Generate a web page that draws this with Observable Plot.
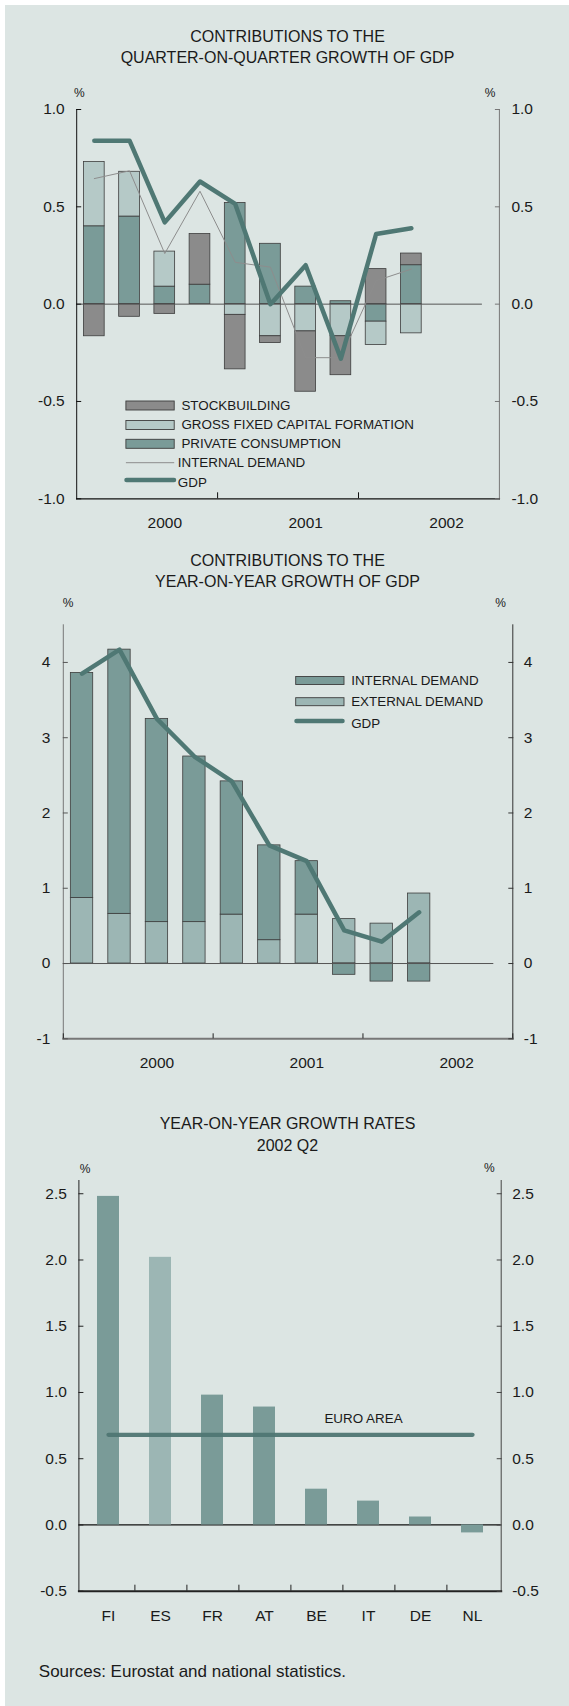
<!DOCTYPE html>
<html><head><meta charset="utf-8">
<script src="https://cdn.jsdelivr.net/npm/d3@7"></script>
<script src="https://cdn.jsdelivr.net/npm/@observablehq/plot@0.6"></script>
<style>
html,body{margin:0;padding:0;background:#fff;}
#page{position:relative;width:569px;height:1706px;overflow:hidden;font-family:"Liberation Sans",Arial,sans-serif;color:#1a1a1a;}
#panel{position:absolute;left:5px;top:5px;width:564px;height:1701px;background:#dce5e3;}
.chart{position:absolute;left:0;}
#overlay{position:absolute;left:0;top:0;}
</style></head><body><div id="page"><div id="panel"></div></div>
<script>
// ---------------- DATA ----------------
const quarters = ["2000 Q1","2000 Q2","2000 Q3","2000 Q4","2001 Q1","2001 Q2","2001 Q3","2001 Q4","2002 Q1","2002 Q2"];
const years = ["2000","2001","2002"];

// Chart 1: contributions to quarter-on-quarter growth of GDP (percentage points)
const qqSeries = ["PRIVATE CONSUMPTION","GROSS FIXED CAPITAL FORMATION","STOCKBUILDING"];
const qqPrivateConsumption = [0.40, 0.45, 0.09, 0.10, 0.52, 0.31, 0.09, 0.015, -0.09, 0.20];
const qqGFCF               = [0.33, 0.23, 0.18, 0.00, -0.055, -0.165, -0.14, -0.165, -0.12, -0.15];
const qqStockbuilding      = [-0.165, -0.065, -0.05, 0.26, -0.28, -0.035, -0.31, -0.20, 0.18, 0.06];
const qqInternalDemand     = [0.645, 0.685, 0.26, 0.58, 0.215, 0.19, -0.275, -0.275, 0.12, 0.18];
const qqGDP                = [0.84, 0.84, 0.42, 0.63, 0.515, 0.0, 0.20, -0.28, 0.36, 0.39];
const qqTicks = [-1, -0.5, 0, 0.5, 1];

// Chart 2: contributions to year-on-year growth of GDP
const yySeries = ["EXTERNAL DEMAND","INTERNAL DEMAND"];
const yyExternal = [0.87, 0.66, 0.55, 0.55, 0.65, 0.31, 0.65, 0.59, 0.53, 0.93];
const yyInternal = [2.99, 3.51, 2.70, 2.20, 1.77, 1.26, 0.71, -0.15, -0.24, -0.24];
const yyGDP      = [3.85, 4.17, 3.25, 2.75, 2.42, 1.57, 1.36, 0.44, 0.29, 0.68];
const yyTicks = [-1, 0, 1, 2, 3, 4];

// Chart 3: year-on-year growth rates, 2002 Q2
const countries = ["FI","ES","FR","AT","BE","IT","DE","NL"];
const growth    = [2.48, 2.02, 0.98, 0.89, 0.27, 0.18, 0.06, -0.06];
const euroArea  = 0.68;
const grTicks = [-0.5, 0, 0.5, 1, 1.5, 2, 2.5];

// ---------------- STYLE ----------------
const cPC = "#7a9b98", cGF = "#b5c9c7", cSB = "#8b8b8b", cGDP = "#4f7874", cID = "#8d8d8d";
const cInt = "#7a9b98", cExt = "#9cb6b4";
const font = "'Liberation Sans', Arial, sans-serif";
const baseStyle = {fontFamily: font, fontSize: "15.5px", background: "transparent", color: "#1a1a1a", overflow: "visible"};
const perYear = 4, nSlots = years.length * perYear;
const fmt1 = d => d.toFixed(1), fmt0 = d => d.toFixed(0);
const page = document.getElementById("page");
function place(svg, top) { svg.classList.add("chart"); svg.style.top = top + "px"; page.appendChild(svg); }
const yearBounds = d3.range(perYear, nSlots, perYear);
const yearMids = years.map((y, k) => k * perYear + 2.5);
const yearFmt = d => years[Math.floor(d / perYear)];

function yAxes(ticks, fmt, leftStroke, rightStroke, padL, padR) {
  return [
    Plot.axisY({anchor: "left", ticks, tickSize: -5, tickFormat: () => "", label: null, stroke: leftStroke}),
    Plot.axisY({anchor: "left", ticks, tickSize: 0, tickPadding: padL, tickFormat: fmt, label: null}),
    Plot.axisY({anchor: "right", ticks, tickSize: -5, tickFormat: () => "", label: null, stroke: rightStroke}),
    Plot.axisY({anchor: "right", ticks, tickSize: 0, tickPadding: padR, tickFormat: fmt, label: null})
  ];
}

// ---------------- CHART 1 ----------------
const qqRows = [];
[qqPrivateConsumption, qqGFCF, qqStockbuilding].forEach((arr, s) =>
  arr.forEach((v, i) => qqRows.push({t: i, series: qqSeries[s], value: v})));
const qqGdpRows = qqGDP.map((v, i) => ({mid: i + 0.5, value: v}));
const qqIdRows = qqInternalDemand.map((v, i) => ({mid: i + 0.5, value: v}));

const chart1 = Plot.plot({
  width: 569, height: 440,
  marginTop: 9, marginBottom: 41.7, marginLeft: 76.2, marginRight: 70.1,
  style: baseStyle,
  x: {domain: [0, nSlots]},
  y: {domain: [-1, 1]},
  color: {domain: qqSeries, range: [cPC, cGF, cSB]},
  marks: [
    Plot.rectY(qqRows, {x: "t", interval: 1, y: "value", fill: "series", stroke: "#3d3d3d", strokeWidth: 0.8, insetLeft: 7.25, insetRight: 7.25}),
    Plot.ruleY([0], {stroke: "#555", strokeWidth: 1, insetRight: 17}),
    Plot.line(qqIdRows, {x: "mid", y: "value", stroke: cID, strokeWidth: 1}),
    Plot.line(qqGdpRows, {x: "mid", y: "value", stroke: cGDP, strokeWidth: 4.5, strokeLinecap: "round"}),
    Plot.frame({anchor: "left", stroke: "#111"}),
    Plot.frame({anchor: "right", stroke: "#777"}),
    Plot.frame({anchor: "bottom", stroke: "#111", strokeWidth: 1.3}),
    ...yAxes(qqTicks, fmt1, "#111", "#777", 12, 12),
    Plot.axisX({ticks: yearBounds, tickSize: -6, tickFormat: () => "", label: null, stroke: "#111"}),
    Plot.axisX({ticks: yearMids, tickSize: 0, tickPadding: 18, tickFormat: yearFmt, label: null})
  ]
});
place(chart1, 100);

// ---------------- CHART 2 ----------------
const yyRows = [];
[yyExternal, yyInternal].forEach((arr, s) =>
  arr.forEach((v, i) => yyRows.push({t: i, series: yySeries[s], value: v})));
const yyGdpRows = yyGDP.map((v, i) => ({mid: i + 0.5, value: v}));

const chart2 = Plot.plot({
  width: 569, height: 470,
  marginTop: 9.3, marginBottom: 46.7, marginLeft: 62.8, marginRight: 56.7,
  style: baseStyle,
  x: {domain: [0, nSlots]},
  y: {domain: [-1, 4.5]},
  color: {domain: yySeries, range: [cExt, cInt]},
  marks: [
    Plot.rectY(yyRows, {x: "t", interval: 1, y: "value", fill: "series", stroke: "#3d3d3d", strokeWidth: 0.8, insetLeft: 7.55, insetRight: 7.55}),
    Plot.ruleY([0], {stroke: "#555", strokeWidth: 1, insetRight: 19}),
    Plot.line(yyGdpRows, {x: "mid", y: "value", stroke: cGDP, strokeWidth: 4.5, strokeLinecap: "round"}),
    Plot.frame({anchor: "left", stroke: "#777"}),
    Plot.frame({anchor: "right", stroke: "#333"}),
    Plot.frame({anchor: "bottom", stroke: "#777", strokeWidth: 2}),
    ...yAxes(yyTicks, fmt0, "#555", "#333", 13, 11),
    Plot.axisX({ticks: [0, ...yearBounds, nSlots], tickSize: -5, tickFormat: () => "", label: null, stroke: "#222"}),
    Plot.axisX({ticks: yearMids, tickSize: 0, tickPadding: 18, tickFormat: yearFmt, label: null})
  ]
});
place(chart2, 615);

// ---------------- CHART 3 ----------------
const grRows = countries.map((c, i) => ({country: c, value: growth[i]}));
const euroRows = [countries[0], countries[countries.length - 1]].map(c => ({country: c, value: euroArea}));
const m3 = {l: 78.4, r: 68.3};
const step3 = (569 - m3.l - m3.r) / countries.length;

const chart3 = Plot.plot({
  width: 569, height: 470,
  marginTop: 10, marginBottom: 49.3, marginLeft: m3.l, marginRight: m3.r,
  style: baseStyle,
  x: {domain: countries, paddingInner: 0.58, paddingOuter: 0.29},
  y: {domain: [-0.5, 2.6]},
  marks: [
    Plot.ruleY([0], {stroke: "#111", strokeWidth: 1.2}),
    Plot.barY(grRows, {x: "country", y: "value", fill: d => d.country === "ES" ? cExt : cInt}),
    Plot.line(euroRows, {x: "country", y: "value", stroke: "#4f7673", strokeWidth: 4.3, strokeLinecap: "round", strokeOpacity: 0.95}),
    Plot.text([{country: "IT", value: euroArea, label: "EURO AREA"}], {x: "country", y: "value", text: "label", dx: -5, dy: -16, fontSize: 13.4, fill: "#1a1a1a"}),
    Plot.frame({anchor: "left", stroke: "#222"}),
    Plot.frame({anchor: "right", stroke: "#444"}),
    Plot.frame({anchor: "bottom", stroke: "#222", strokeWidth: 2}),
    ...yAxes(grTicks, fmt1, "#222", "#444", 12, 11),
    Plot.axisX({ticks: countries.slice(0, -1), tickSize: -6, dx: step3 / 2, tickFormat: () => "", label: null, stroke: "#222"}),
    Plot.axisX({tickSize: 0, tickPadding: 18.5, label: null})
  ]
});
place(chart3, 1170);

// ---------------- OVERLAY TEXT / LEGENDS ----------------
const ov = d3.select(page).append("svg").attr("id", "overlay")
  .attr("width", 569).attr("height", 1706)
  .style("font-family", font).style("pointer-events", "none");

const titles = [
  ["CONTRIBUTIONS TO THE", 41.7], ["QUARTER-ON-QUARTER GROWTH OF GDP", 63.3],
  ["CONTRIBUTIONS TO THE", 566], ["YEAR-ON-YEAR GROWTH OF GDP", 587.3],
  ["YEAR-ON-YEAR GROWTH RATES", 1129], ["2002 Q2", 1151]
];
ov.selectAll("text.title").data(titles).join("text").attr("class", "title")
  .attr("x", 287.5).attr("y", d => d[1]).attr("text-anchor", "middle")
  .attr("font-size", 16).attr("fill", "#1a1a1a").text(d => d[0]);

const pct = [[79.3, 96.7], [490, 96.7], [68, 607.3], [500.7, 607.3], [85, 1172.7], [489.3, 1171.5]];
ov.selectAll("text.pct").data(pct).join("text").attr("class", "pct")
  .attr("x", d => d[0]).attr("y", d => d[1]).attr("text-anchor", "middle")
  .attr("font-size", 12).attr("fill", "#1a1a1a").text("%");

function legendRect(x, yc, h, fill, label, tx, base) {
  ov.append("rect").attr("x", x).attr("y", yc - h / 2).attr("width", 48.3).attr("height", h)
    .attr("fill", fill).attr("stroke", "#3d3d3d").attr("stroke-width", 0.9);
  ov.append("text").attr("x", tx).attr("y", base).attr("font-size", 13.4).attr("fill", "#1a1a1a").text(label);
}
function legendLine(x1, x2, y, stroke, w, label, tx, base) {
  ov.append("line").attr("x1", x1).attr("x2", x2).attr("y1", y).attr("y2", y)
    .attr("stroke", stroke).attr("stroke-width", w).attr("stroke-linecap", w > 2 ? "round" : "butt");
  ov.append("text").attr("x", tx).attr("y", base).attr("font-size", 13.4).attr("fill", "#1a1a1a").text(label);
}
// chart 1 legend
legendRect(125.9, 405.5, 9, cSB, qqSeries[2], 181.4, 410);
legendRect(125.9, 425, 9, cGF, qqSeries[1], 181.4, 429.3);
legendRect(125.9, 443.8, 9, cPC, qqSeries[0], 181.4, 448.3);
legendLine(125.9, 174.2, 462.7, cID, 1, "INTERNAL DEMAND", 177.8, 467);
legendLine(126.5, 174, 480, cGDP, 4.5, "GDP", 177.8, 486.7);
// chart 2 legend
legendRect(295.7, 680.5, 8, cInt, yySeries[1], 351.2, 685);
legendRect(295.7, 701.7, 8, cExt, yySeries[0], 351.2, 706);
legendLine(296.5, 342.5, 721, cGDP, 4.5, "GDP", 351.2, 727.7);

ov.append("text").attr("x", 38.8).attr("y", 1677.3).attr("font-size", 17).attr("fill", "#1a1a1a")
  .text("Sources: Eurostat and national statistics.");
</script></body></html>
